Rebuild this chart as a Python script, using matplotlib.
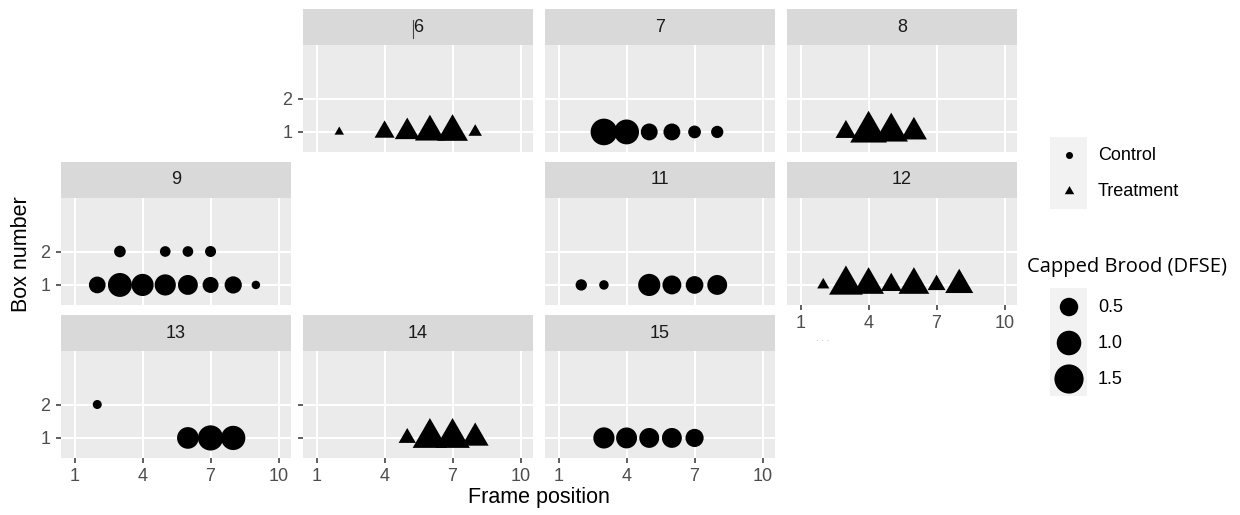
import matplotlib.pyplot as plt
from matplotlib.lines import Line2D
from matplotlib.patches import Rectangle
import numpy as np
import pandas as pd

# Long-format brood records: colony, frame position, box number, capped brood (DFSE)
colony = ([6] * 6 + [7] * 6 + [8] * 4 + [9] * 12 + [11] * 6 + [12] * 7
          + [13] * 4 + [14] * 4 + [15] * 5)
frame = [2, 4, 5, 6, 7, 8,
         3, 4, 5, 6, 7, 8,
         3, 4, 5, 6,
         3, 5, 6, 7, 2, 3, 4, 5, 6, 7, 8, 9,
         2, 3, 5, 6, 7, 8,
         2, 3, 4, 5, 6, 7, 8,
         2, 6, 7, 8,
         5, 6, 7, 8,
         3, 4, 5, 6, 7]
box = ([1] * 6 + [1] * 6 + [1] * 4 + [2] * 4 + [1] * 8 + [1] * 6 + [1] * 7
       + [2, 1, 1, 1] + [1] * 4 + [1] * 5)
brood = [0.06, 0.29, 0.50, 0.78, 0.84, 0.11,
         1.21, 1.03, 0.40, 0.40, 0.20, 0.18,
         0.32, 1.28, 1.02, 0.56,
         0.16, 0.13, 0.13, 0.14, 0.39, 0.94, 0.78, 0.70, 0.60, 0.35, 0.42, 0.08,
         0.15, 0.10, 0.78, 0.53, 0.45, 0.60,
         0.09, 1.04, 0.84, 0.33, 0.84, 0.22, 0.67,
         0.09, 0.74, 1.06, 0.97,
         0.20, 1.10, 1.10, 0.60,
         0.70, 0.68, 0.60, 0.60, 0.48]

colony_ids = [6, 7, 8, 9, 11, 12, 13, 14, 15]
colony_group = ['Treatment', 'Control', 'Treatment', 'Control', 'Control',
                'Treatment', 'Control', 'Treatment', 'Control']

groups = ['Control', 'Treatment']
size_breaks = [0.5, 1.0, 1.5]
x_breaks = [1, 4, 7, 10]
y_breaks = [1, 2]

df = pd.DataFrame({'colony': colony, 'frame': frame, 'box': box, 'brood': brood})
df['group'] = df['colony'].map(dict(zip(colony_ids, colony_group)))

DPI = 100
W, H = 1240, 515
SIZE_LIMITS = (0.05, 1.6)

# equilateral triangle with its centroid on the data point (same area as the circle)
TRIANGLE = [(0, 1.555), (1.347, -0.778), (-1.347, -0.778)]
MARKERS = {'Control': ('o', 1.0), 'Treatment': (TRIANGLE, 1.555)}


def brood_diameter(v):
    """Point diameter in pixels for a capped brood value (area scale)."""
    r = (np.asarray(v, dtype=float) - SIZE_LIMITS[0]) / (SIZE_LIMITS[1] - SIZE_LIMITS[0])
    return 5.0 * (1 + 5 * np.sqrt(np.clip(r, 0, 1)))


def marker_area(diam_px, grp):
    _, factor = MARKERS[grp]
    return (diam_px * 72 / DPI * factor) ** 2


def fig_box(x0, y0, x1, y1):
    return [x0 / W, 1 - y1 / H, (x1 - x0) / W, (y1 - y0) / H]


plt.rcParams['font.family'] = ['Liberation Sans', 'DejaVu Sans']
fig = plt.figure(figsize=(W / DPI, H / DPI), dpi=DPI)

col_left = [61, 303, 545, 787]
panel_w = 230
row_top = [9, 162, 315]
strip_h = 36
panel_h = 107

y_labelled = {6, 9, 13}
y_ticked = {6, 9, 13, 14}
x_labelled = {12, 13, 14, 15}

for cid in colony_ids:
    slot = cid - 5
    row, col = slot // 4, slot % 4
    x0 = col_left[col]
    top = row_top[row]

    strip = fig.add_axes(fig_box(x0, top, x0 + panel_w, top + strip_h))
    strip.set_facecolor('#D9D9D9')
    strip.set_xticks([])
    strip.set_yticks([])
    for s in strip.spines.values():
        s.set_visible(False)
    strip.text(0.5, 0.5, str(cid), ha='center', va='center',
               fontsize=13, color='#1A1A1A', transform=strip.transAxes)

    ax = fig.add_axes(fig_box(x0, top + strip_h, x0 + panel_w, top + strip_h + panel_h))
    ax.set_facecolor('#EBEBEB')
    for s in ax.spines.values():
        s.set_visible(False)
    ax.set_xlim(0.4, 10.55)
    ax.set_ylim(0.4, 3.6)
    ax.set_xticks(x_breaks)
    ax.set_yticks(y_breaks)
    ax.grid(True, color='white', linewidth=1.5)
    ax.set_axisbelow(True)

    sub = df[df['colony'] == cid]
    for grp, g in sub.groupby('group'):
        marker, _ = MARKERS[grp]
        ax.scatter(g['frame'], g['box'], s=marker_area(brood_diameter(g['brood']), grp),
                   marker=marker, color='black', linewidths=0, zorder=3)

    ax.tick_params(axis='x', bottom=cid in x_labelled, labelbottom=cid in x_labelled,
                   length=3.5, width=1.1, color='#333333', labelcolor='#4D4D4D',
                   labelsize=13, pad=4)
    ax.tick_params(axis='y', left=cid in y_ticked, labelleft=cid in y_labelled,
                   length=3.5, width=1.1, color='#333333', labelcolor='#4D4D4D',
                   labelsize=13, pad=4)

fig.text(22 / W, 1 - 254 / H, 'Box number', rotation=90, ha='center', va='center',
         fontsize=15.5, color='black')
fig.text(539 / W, 1 - 497 / H, 'Frame position', ha='center', va='center',
         fontsize=15.5, color='black')

# legends drawn on a pixel-space overlay
leg = fig.add_axes([0, 0, 1, 1], facecolor='none')
leg.set_xlim(0, W)
leg.set_ylim(H, 0)
leg.axis('off')

leg.add_patch(Rectangle((1050, 137), 37, 72, facecolor='#F2F2F2', edgecolor='none'))
shape_rows = [155, 191]
for grp, yc in zip(groups, shape_rows):
    marker, _ = MARKERS[grp]
    leg.scatter([1069], [yc], s=marker_area(7, grp), marker=marker,
                color='black', linewidths=0)
    leg.text(1098, yc, grp, ha='left', va='center', fontsize=13, color='black')

leg.text(1027, 267, 'Capped Brood (DFSE)', ha='left', va='center', fontsize=14.5,
         family=['Open Sans', 'DejaVu Sans'], color='black')
leg.add_patch(Rectangle((1050, 288), 37, 108, facecolor='#F2F2F2', edgecolor='none'))
size_rows = [307, 343, 379]
leg.scatter([1069] * len(size_breaks), size_rows,
            s=marker_area(brood_diameter(size_breaks), 'Control'),
            marker='o', color='black', linewidths=0)
for v, yc in zip(size_breaks, size_rows):
    leg.text(1098, yc, f'{v:.1f}', ha='left', va='center', fontsize=13, color='black')

# stray caret in the first strip and dots under the right column
fig.add_artist(Line2D([413 / W, 413 / W], [1 - 20 / H, 1 - 38 / H],
                      color='#444444', linewidth=0.8))
leg.text(823, 338, '. . .', ha='center', va='center', fontsize=7, color='#AAAAAA')

fig.savefig('out.png', dpi=DPI)
